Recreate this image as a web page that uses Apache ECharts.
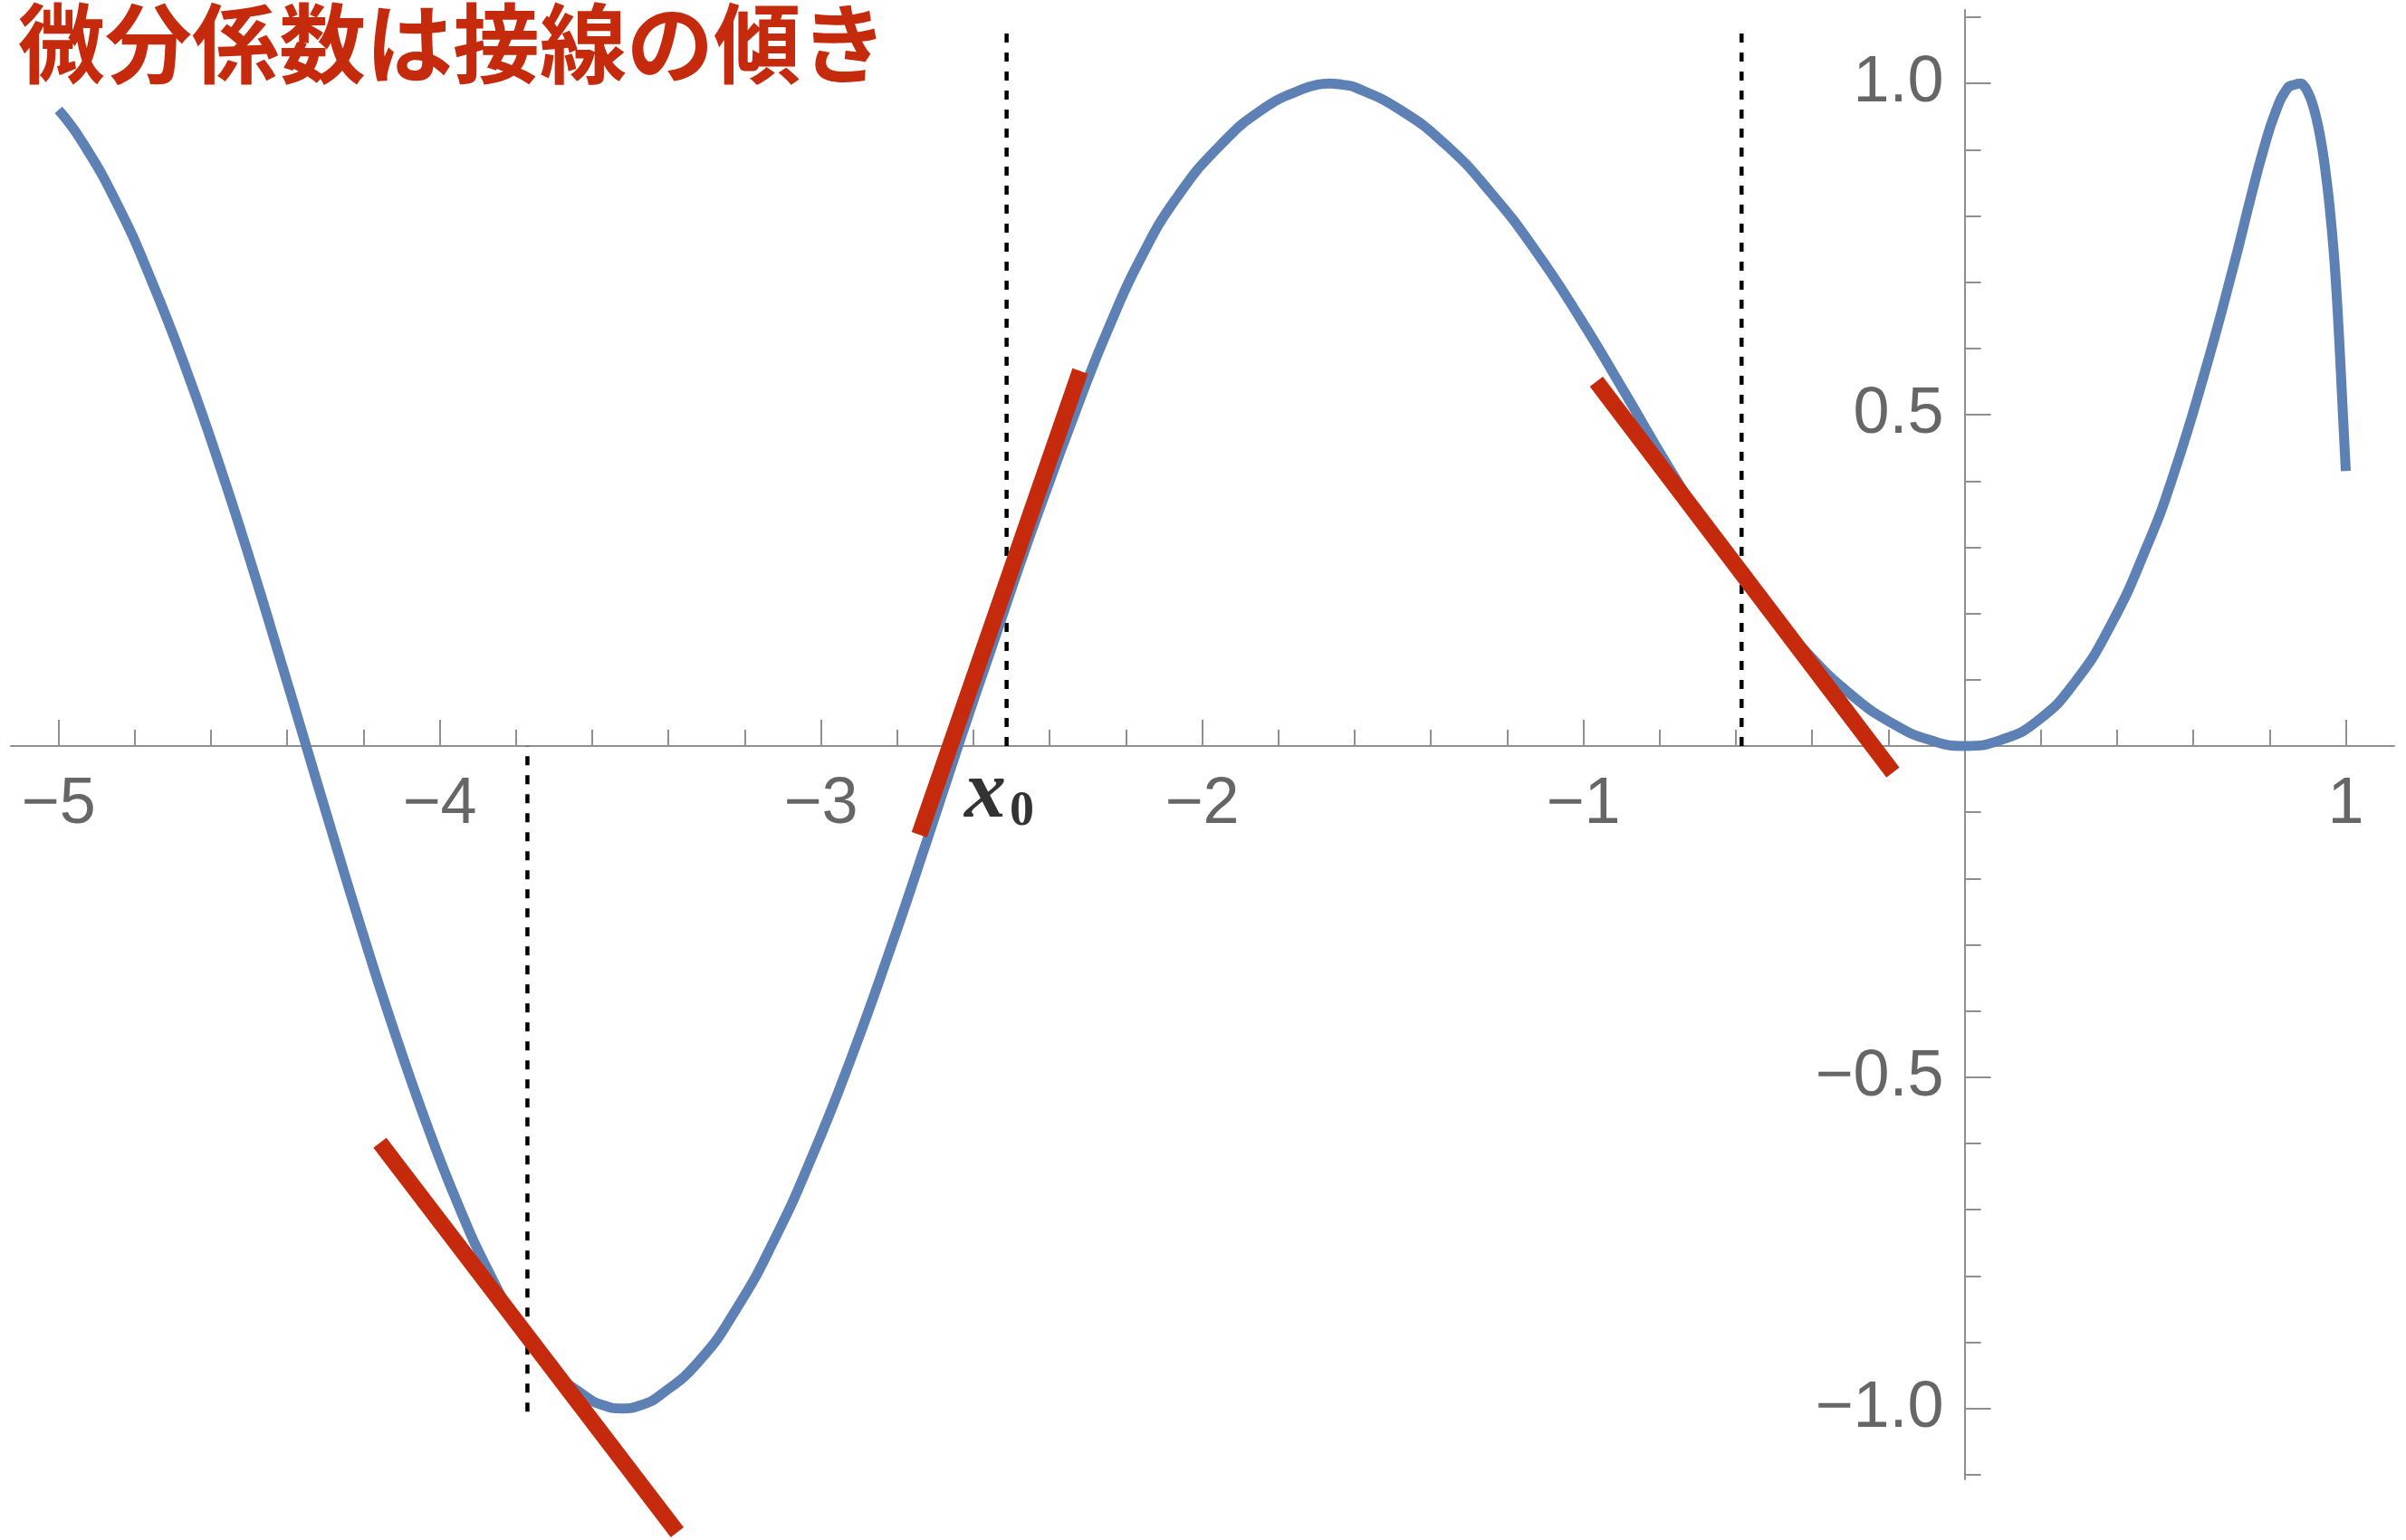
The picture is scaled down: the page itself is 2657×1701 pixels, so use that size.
<!DOCTYPE html>
<html>
<head>
<meta charset="utf-8">
<script src="https://cdn.jsdelivr.net/npm/echarts@6/dist/echarts.min.js"></script>
<style>
  html, body { margin: 0; padding: 0; background: #ffffff; }
  #chart { width: 2657px; height: 1701px; }
</style>
</head>
<body>
<div id="chart"></div>
<script>
// Sampled curve (x, y)
const curveX = [
  -5.0, -4.938, -4.847, -4.755, -4.663, -4.572, -4.488, -4.422, -4.355, -4.288,
  -4.205, -4.130, -4.038, -3.955, -3.872, -3.789, -3.705, -3.622, -3.572, -3.522,
  -3.472, -3.422, -3.322, -3.222, -3.122, -3.022, -2.922, -2.822, -2.722, -2.639,
  -2.555, -2.439, -2.306, -2.235, -2.164, -2.070, -1.952, -1.834, -1.739, -1.700,
  -1.666, -1.632, -1.598, -1.480, -1.362, -1.244, -1.126, -1.008, -0.890, -0.772,
  -0.654, -0.537, -0.419, -0.301, -0.183, -0.088, 0.0, 0.100, 0.195, 0.289,
  0.383, 0.478, 0.546, 0.626, 0.705, 0.752, 0.784, 0.815, 0.847, 0.865,
  0.881, 0.892, 0.900, 0.910, 0.922, 0.934, 0.944, 0.954, 0.962, 0.970,
  0.976, 0.981, 0.987, 0.993, 1.0
];
const curveY = [
  0.960, 0.912, 0.819, 0.701, 0.565, 0.414, 0.263, 0.138, 0.009, -0.120,
  -0.277, -0.412, -0.565, -0.688, -0.793, -0.878, -0.941, -0.980, -0.995, -1.0,
  -0.995, -0.980, -0.930, -0.850, -0.745, -0.618, -0.473, -0.313, -0.143, 0.002,
  0.144, 0.338, 0.545, 0.645, 0.733, 0.825, 0.907, 0.964, 0.991, 0.998,
  1.0, 0.998, 0.994, 0.960, 0.908, 0.836, 0.748, 0.645, 0.532, 0.417,
  0.312, 0.222, 0.144, 0.079, 0.032, 0.0085, 0.0, 0.010, 0.0395, 0.096,
  0.182, 0.301, 0.406, 0.556, 0.723, 0.831, 0.900, 0.956, 0.993, 0.998,
  1.0, 0.995, 0.987, 0.9735, 0.9495, 0.916, 0.879, 0.833, 0.787, 0.733,
  0.681, 0.631, 0.564, 0.494, 0.415
];

// Tangent segments (two end points each)
const tangentLeft   = [[-4.157, -0.599], [-3.377, -1.187]];
const tangentMiddle = [[-2.742, -0.134], [-2.320, 0.566]];
const tangentRight  = [[-0.966, 0.550], [-0.188, -0.040]];

// Dotted guide lines
const guideLeft   = [[-3.770, -1.005], [-3.770, 0]];
const guideMiddle = [[-2.513, 0], [-2.513, 1.08]];
const guideRight  = [[-0.585, 0], [-0.585, 1.08]];

// x0 marker position
const x0Point = [-2.513, 0];

// Axis ticks and labels
const xLabelValues = [-5, -4, -3, -2, -1, 1];
const xMinorValues = [];
for (let i = -25; i <= 5; i++) { if (i !== 0 && i % 5 !== 0) xMinorValues.push(i / 5); }
const yLabelValues = [-1.0, -0.5, 0.5, 1.0];
const yMinorValues = [];
for (let i = -11; i <= 11; i++) { if (i !== 0 && i % 5 !== 0) yMinorValues.push(i / 10); }

const titleText = '微分係数は接線の傾き';

const BLUE = '#5E81B5';
const RED = '#C62A0C';
const AXIS = '#8f8f8f';
const LABEL = '#666666';
const X_MIN = -5.125, X_MAX = 1.127, Y_MIN = -1.107, Y_MAX = 1.111;

// Plot area
const GRID = { left: 12, top: 11, width: 2632, height: 1623 };
// Axis crossings: move each axis line from the grid edge onto the other axis' zero
const xAxisShift = -GRID.height * (0 - Y_MIN) / (Y_MAX - Y_MIN);
const yAxisShift = -GRID.width * (0 - X_MIN) / (X_MAX - X_MIN);

const minusFix = s => s.replace('-', '\u2212');

const chart = echarts.init(document.getElementById('chart'), null, { renderer: 'canvas' });

const segment = (pts, color, width, type, z) => ({
  type: 'line',
  data: pts,
  showSymbol: false,
  symbol: 'none',
  clip: false,
  silent: true,
  z: z,
  lineStyle: { color: color, width: width, type: type, cap: 'butt' }
});

const labelFont = { color: LABEL, fontSize: 72, fontFamily: '"Liberation Sans", Arial, sans-serif' };

chart.setOption({
  animation: false,
  backgroundColor: '#ffffff',
  grid: Object.assign({ containLabel: false, outerBoundsMode: 'none' }, GRID),
  xAxis: [
    {
      type: 'value', min: X_MIN, max: X_MAX, position: 'bottom', offset: xAxisShift,
      axisLine: { show: true, onZero: false, lineStyle: { color: AXIS, width: 2 } },
      axisTick: { show: true, inside: true, length: 29, customValues: xLabelValues, lineStyle: { color: AXIS, width: 2 } },
      axisLabel: Object.assign({
        show: true, customValues: xLabelValues, margin: 29,
        formatter: v => minusFix(String(v))
      }, labelFont),
      splitLine: { show: false }
    },
    {
      type: 'value', min: X_MIN, max: X_MAX, position: 'bottom', offset: xAxisShift,
      axisLine: { show: false, onZero: false },
      axisTick: { show: true, inside: true, length: 18, customValues: xMinorValues, lineStyle: { color: AXIS, width: 2 } },
      axisLabel: { show: false },
      splitLine: { show: false }
    }
  ],
  yAxis: [
    {
      type: 'value', min: Y_MIN, max: Y_MAX, position: 'left', offset: yAxisShift,
      axisLine: { show: true, onZero: false, lineStyle: { color: AXIS, width: 2 } },
      axisTick: { show: true, inside: true, length: 29, customValues: yLabelValues, lineStyle: { color: AXIS, width: 2 } },
      axisLabel: Object.assign({
        show: true, customValues: yLabelValues, margin: 23, padding: [0, 0, 7, 0],
        formatter: v => minusFix(v.toFixed(1))
      }, labelFont),
      splitLine: { show: false }
    },
    {
      type: 'value', min: Y_MIN, max: Y_MAX, position: 'left', offset: yAxisShift,
      axisLine: { show: false, onZero: false },
      axisTick: { show: true, inside: true, length: 18, customValues: yMinorValues, lineStyle: { color: AXIS, width: 2 } },
      axisLabel: { show: false },
      splitLine: { show: false }
    }
  ],
  graphic: [
    {
      type: 'text', x: 20, y: 48, z: 100,
      style: {
        text: titleText, fill: RED, fontSize: 96, fontWeight: 'bold',
        fontFamily: '"Noto Sans CJK JP", "Noto Sans CJK SC", sans-serif',
        align: 'left', verticalAlign: 'middle'
      }
    }
  ],
  series: [
    segment(guideLeft, '#000000', 4.5, [10, 11], 2),
    segment(guideMiddle, '#000000', 4.5, [10, 11], 2),
    segment(guideRight, '#000000', 4.5, [10, 11], 2),
    {
      type: 'line',
      data: curveX.map((x, i) => [x, curveY[i]]),
      showSymbol: false, symbol: 'none',
      smooth: 0.5,
      clip: false, silent: true, z: 3,
      lineStyle: { color: BLUE, width: 11, join: 'round' }
    },
    segment(tangentLeft, RED, 18, 'solid', 4),
    segment(tangentMiddle, RED, 18, 'solid', 4),
    segment(tangentRight, RED, 18, 'solid', 4),
    {
      type: 'scatter',
      data: [x0Point],
      symbolSize: 0,
      silent: true,
      z: 5,
      label: {
        show: true, position: 'bottom', distance: 16, offset: [-8, 0],
        formatter: '{x|x}{s|0}',
        rich: {
          x: { fontFamily: '"Liberation Serif", "DejaVu Serif", serif', fontStyle: 'italic', fontWeight: 'bold', fontSize: 92, lineHeight: 84, color: '#000000', verticalAlign: 'bottom' },
          s: { fontFamily: '"Liberation Serif", "DejaVu Serif", serif', fontWeight: 'bold', fontSize: 54, lineHeight: 38, color: '#000000', verticalAlign: 'bottom', padding: [0, 0, 0, 4] }
        }
      }
    }
  ]
});
</script>
</body>
</html>
